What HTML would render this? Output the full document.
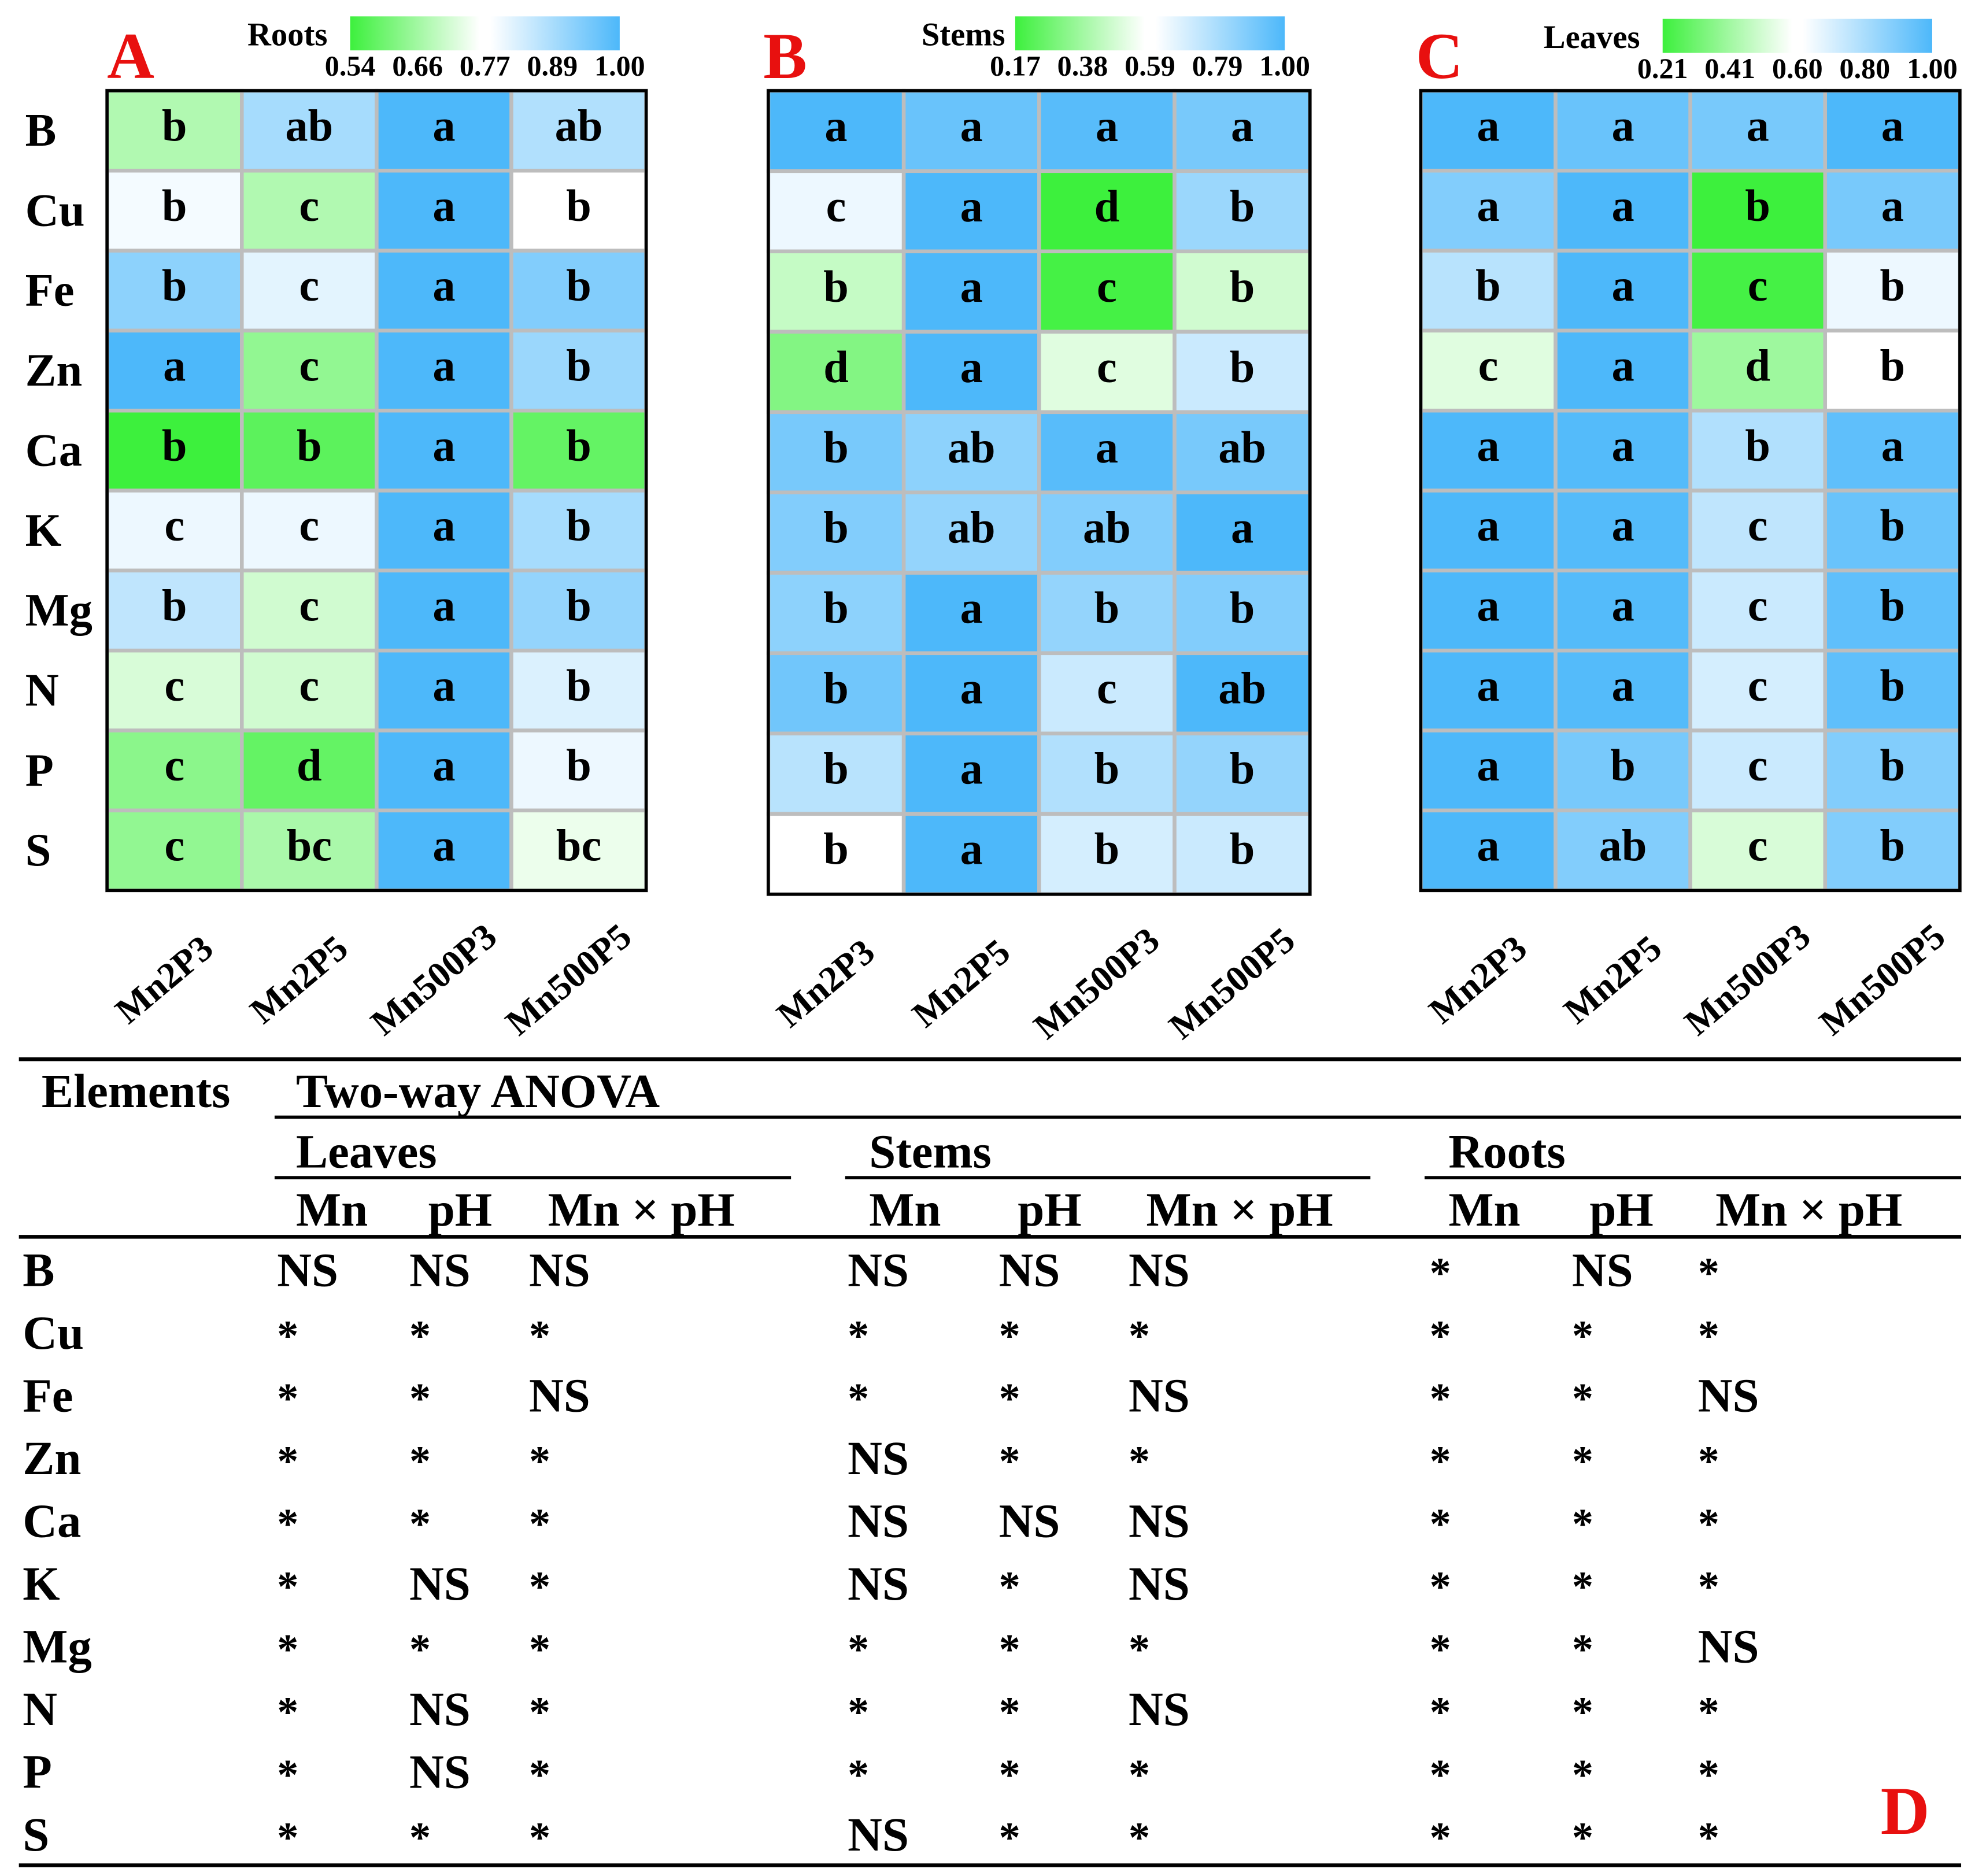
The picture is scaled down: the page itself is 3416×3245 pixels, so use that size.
<!DOCTYPE html>
<html><head><meta charset="utf-8"><style>
html,body{margin:0;padding:0;background:#fff}
svg{display:block}
text{font-family:"Liberation Serif",serif;font-weight:bold}
</style></head><body>
<svg id="fig" width="3416" height="3245" viewBox="0 0 1568 1489.5" xmlns="http://www.w3.org/2000/svg">
<defs>
<linearGradient id="gg" x1="0" x2="1"><stop offset="0" stop-color="#3df03d"/><stop offset="1" stop-color="#ffffff"/></linearGradient>
<linearGradient id="gb" x1="0" x2="1"><stop offset="0" stop-color="#ffffff"/><stop offset="1" stop-color="#4db8fa"/></linearGradient>
</defs>
<g id="heat"></g>
<g id="table"></g>
</svg>
<script>
const rows = ["B","Cu","Fe","Zn","Ca","K","Mg","N","P","S"];
const treatments = ["Mn2P3","Mn2P5","Mn500P3","Mn500P5"];
const rootsVals = [[0.3,0.75,1,0.72],[0.53,0.3,1,0.5],[0.82,0.58,1,0.85],[1,0.22,1,0.78],[0,0.08,1,0.1],[0.55,0.55,1,0.75],[0.68,0.38,1,0.8],[0.4,0.38,1,0.6],[0.2,0.1,1,0.55],[0.22,0.28,1,0.45]];
const rootsLet = [["b","ab","a","ab"],["b","c","a","b"],["b","c","a","b"],["a","c","a","b"],["b","b","a","b"],["c","c","a","b"],["b","c","a","b"],["c","c","a","b"],["c","d","a","b"],["c","bc","a","bc"]];
const stemsVals = [[1,0.92,0.97,0.88],[0.55,1,0,0.78],[0.35,1,0.02,0.38],[0.18,1,0.42,0.65],[0.88,0.82,0.97,0.88],[0.85,0.8,0.85,1],[0.82,1,0.8,0.85],[0.9,1,0.65,1],[0.7,1,0.72,0.8],[0.5,1,0.62,0.65]];
const stemsLet = [["a","a","a","a"],["c","a","d","b"],["b","a","c","b"],["d","a","c","b"],["b","ab","a","ab"],["b","ab","ab","a"],["b","a","b","b"],["b","a","c","ab"],["b","a","b","b"],["b","a","b","b"]];
const leavesVals = [[1,0.92,0.88,1],[0.85,1,0,0.88],[0.7,1,0.02,0.55],[0.42,1,0.25,0.5],[1,0.98,0.72,0.95],[1,0.98,0.68,0.92],[1,0.98,0.65,0.95],[1,0.98,0.62,0.95],[1,0.88,0.65,0.85],[1,0.85,0.4,0.85]];
const leavesLet = [["a","a","a","a"],["a","a","b","a"],["b","a","c","b"],["c","a","d","b"],["a","a","b","a"],["a","a","c","b"],["a","a","c","b"],["a","a","c","b"],["a","b","c","b"],["a","ab","c","b"]];
const rootsTicks = ["0.54","0.66","0.77","0.89","1.00"];
const stemsTicks = ["0.17","0.38","0.59","0.79","1.00"];
const leavesTicks = ["0.21","0.41","0.60","0.80","1.00"];

const tblRows = ["B","Cu","Fe","Zn","Ca","K","Mg","N","P","S"];
const leavesSig = [["NS","NS","NS"],["*","*","*"],["*","*","NS"],["*","*","*"],["*","*","*"],["*","NS","*"],["*","*","*"],["*","NS","*"],["*","NS","*"],["*","*","*"]];
const stemsSig = [["NS","NS","NS"],["*","*","*"],["*","*","NS"],["NS","*","*"],["NS","NS","NS"],["NS","*","NS"],["*","*","*"],["*","*","NS"],["*","*","*"],["NS","*","*"]];
const rootsSig = [["*","NS","*"],["*","*","*"],["*","*","NS"],["*","*","*"],["*","*","*"],["*","*","*"],["*","*","NS"],["*","*","*"],["*","*","*"],["*","*","*"]];

const NS="http://www.w3.org/2000/svg";
function mk(tag,attrs,parent,txt){const e=document.createElementNS(NS,tag);for(const k in attrs)e.setAttribute(k,attrs[k]);if(txt!==undefined)e.textContent=txt;parent.appendChild(e);return e;}
function lerp(a,b,t){return Math.round(a+(b-a)*t);}
function color(v){const lo=[61,240,61],mid=[255,255,255],hi=[77,184,250];let a,b,t;if(v<0.5){a=lo;b=mid;t=v/0.5;}else{a=mid;b=hi;t=(v-0.5)/0.5;}return `rgb(${lerp(a[0],b[0],t)},${lerp(a[1],b[1],t)},${lerp(a[2],b[2],t)})`;}

const heat=document.getElementById('heat');
const panels=[
 {id:"A",x0:85,x1:513,y0:72,y1:707,vals:rootsVals,lets:rootsLet,title:"Roots",ticks:rootsTicks,bx:278,by:13,tx:260,lx:85,rowLabels:true},
 {id:"B",x0:610,x1:1040,y0:72,y1:710,vals:stemsVals,lets:stemsLet,title:"Stems",ticks:stemsTicks,bx:806,by:13,tx:798,lx:606,rowLabels:false},
 {id:"C",x0:1128,x1:1556,y0:72,y1:707,vals:leavesVals,lets:leavesLet,title:"Leaves",ticks:leavesTicks,bx:1320,by:15,tx:1302,lx:1124,rowLabels:false}
];
panels.forEach(p=>{
 const g=mk('g',{},heat);
 
 
 const cw=(p.x1-p.x0)/treatments.length, ch=(p.y1-p.y0)/rows.length;
 const xS=j=>p.x0+j*cw, yS=i=>p.y0+i*ch;
 p.vals.forEach((row,i)=>row.forEach((v,j)=>{
  const r=mk('rect',{x:xS(j),y:yS(i),width:cw,height:ch,fill:color(v),stroke:'#bdbdbd','stroke-width':3},g);
  
  
  const t=mk('text',{x:xS(j)+cw/2,y:yS(i)+ch/2+8,'text-anchor':'middle','font-size':36},g,p.lets[i][j]);
  
  
 }));
 const fr=mk('rect',{x:p.x0,y:p.y0,width:p.x1-p.x0,height:p.y1-p.y0,fill:'none',stroke:'#000','stroke-width':2.5},g);
 
 
 if(p.rowLabels){rows.forEach((r,i)=>{const t=mk('text',{x:20,y:yS(i)+ch/2+12,'font-size':37},g,r);});}
 treatments.forEach((tr,j)=>{const cx=xS(j)+cw/2-2,cy=p.y1+78;const t=mk('text',{x:cx,y:cy,'text-anchor':'middle','font-size':29,transform:`rotate(-40 ${cx} ${cy})`},g,tr);});
 const pl=mk('text',{x:p.lx,y:62,'font-size':52,fill:'#e8100f'},g,p.id);
 
 
 const lt=mk('text',{x:p.tx,y:p.by+23,'text-anchor':'end','font-size':26},g,p.title);
 
 
 const bw=214;
 const c1=mk('rect',{x:p.bx,y:p.by,width:bw*0.48,height:27,fill:'url(#gg)'},g);
 
 
 const c2=mk('rect',{x:p.bx+bw*0.52,y:p.by,width:bw*0.48,height:27,fill:'url(#gb)'},g);
 
 
 p.ticks.forEach((tk,k)=>{const t=mk('text',{x:p.bx+k*bw/4,y:p.by+47,'text-anchor':'middle','font-size':23},g,tk);});
});

const tb=document.getElementById('table');
function line(x1,y1,x2,y2,w,name){const l=mk('line',{x1:x1,y1:y1,x2:x2,y2:y2,stroke:'#000','stroke-width':w},tb);}
function tx(x,y,s,fs,name,fill){const t=mk('text',{x:x,y:y,'font-size':fs,fill:fill||'#000'},tb,s);return t;}
line(15,841,1557,841,3,'table-top-rule');
tx(33,879,'Elements',38,'elements-header');
tx(235,879,'Two-way ANOVA',38,'anova-header');
line(218,887,1557,887,2.5,'anova-rule');
tx(235,927,'Leaves',38,'leaves-header');tx(690,927,'Stems',38,'stems-header');tx(1150,927,'Roots',38,'roots-header');
line(218,935,628,935,2.5,'leaves-rule');line(671,935,1088,935,2.5,'stems-rule');line(1131,935,1557,935,2.5,'roots-rule');
const subX=[[235,340,435],[690,808,910],[1150,1262,1362]];
const subT=["Mn","pH","Mn × pH"];
subX.forEach(a=>a.forEach((x,k)=>tx(x,973,subT[k],38,'sub-header')));
line(15,982,1557,982,3,'header-rule');
const valX=[[220,325,420],[673,793,896],[1135,1248,1348]];
const sets=[leavesSig,stemsSig,rootsSig];
tblRows.forEach((r,i)=>{
 const y=1021+i*49.8;
 tx(18,y,r,38,'table-row-label');
 sets.forEach((s,si)=>s[i].forEach((v,k)=>{
  if(v==='*') tx(valX[si][k],y+1,'*',34,'significance-mark');
  else tx(valX[si][k],y,v,38,'significance-mark');
 }));
});
line(15,1481,1557,1481,3,'table-bottom-rule');
tx(1493,1456,'D',54,'panel-label-D','#e8100f');
</script>
</body></html>
